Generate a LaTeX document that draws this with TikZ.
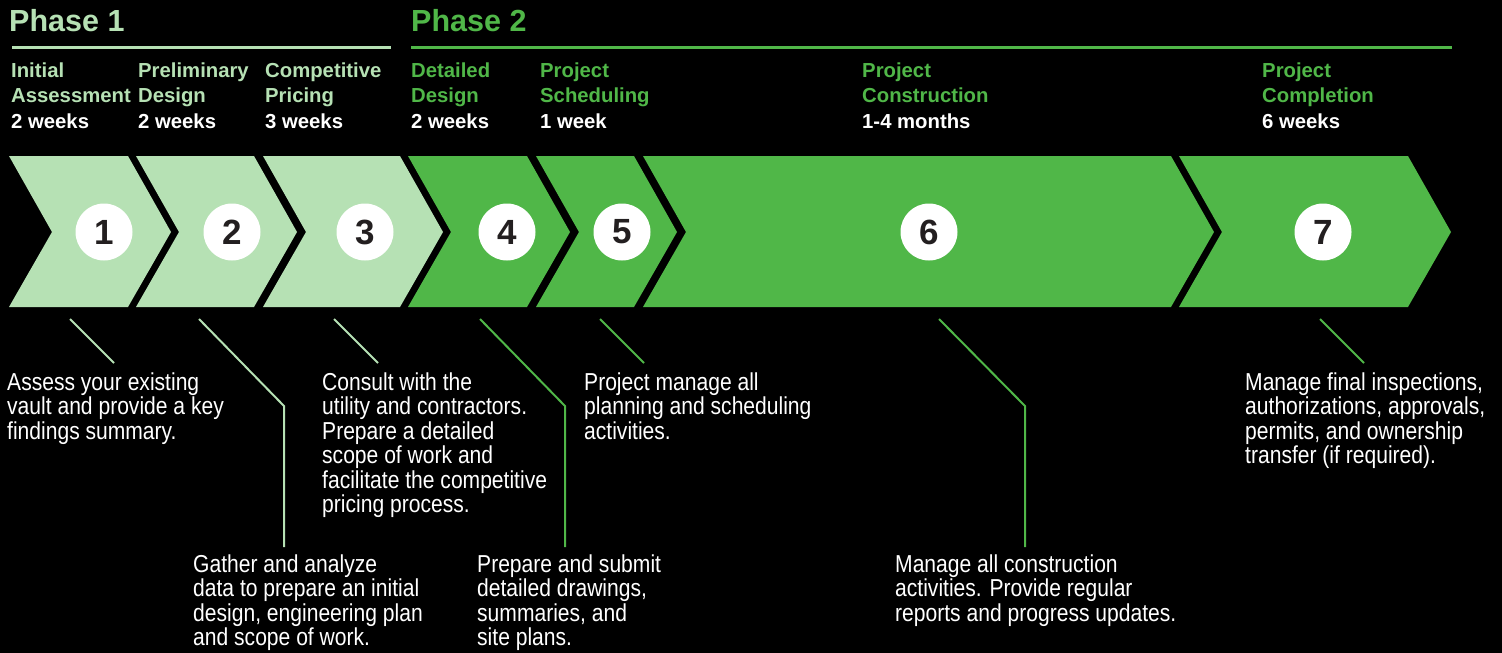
\documentclass[tikz,border=0pt]{standalone}
\usepackage{fontspec}
\setmainfont{Liberation Sans}
\newfontfamily\narrowfont[FakeStretch=0.86]{Liberation Sans}
\definecolor{lgreen}{HTML}{B6E1B4}
\definecolor{dgreen}{HTML}{50B748}
\definecolor{numblack}{HTML}{231F20}
\tikzset{
	phasetitle/.style={anchor=base west, inner sep=0, font=\bfseries\fontsize{30.5}{30.5}\selectfont},
	head/.style={anchor=base west, inner sep=0, align=left, font=\bfseries\fontsize{20.3}{25.5}\selectfont},
	blurb/.style={anchor=base west, inner sep=0, align=left, text=white, font=\narrowfont\fontsize{24.5}{24.5}\selectfont},
	num/.style={circle, fill=white, minimum size=57, inner sep=0, text=numblack, font=\bfseries\fontsize{35}{35}\selectfont},
	lead/.style={line width=2}
}
\begin{document}
\begin{tikzpicture}[x=1pt, y=-1pt]
		\fill[black] (0,0) rectangle (1502,653);
		\useasboundingbox (0,0) rectangle (1502,653);
		\node[phasetitle, text=lgreen] (ph1) at (9,31.7) {Phase 1};
		\node[phasetitle, text=dgreen] (ph2) at (411,31.7) {Phase 2};
		\draw[lgreen, line width=3] (12,47) -- (391,47);
		\draw[dgreen, line width=3] (411,47) -- (1452,47);
		\node[head, text=lgreen] (h1) at (11,128) {Initial\\Assessment\\\textcolor{white}{2 weeks}};
		\node[head, text=lgreen] (h2) at (138,128) {Preliminary\\Design\\\textcolor{white}{2 weeks}};
		\node[head, text=lgreen] (h3) at (265,128) {Competitive\\Pricing\\\textcolor{white}{3 weeks}};
		\node[head, text=dgreen] (h4) at (411,128) {Detailed\\Design\\\textcolor{white}{2 weeks}};
		\node[head, text=dgreen] (h5) at (540,128) {Project\\Scheduling\\\textcolor{white}{1 week}};
		\node[head, text=dgreen] (h6) at (862,128) {Project\\Construction\\\textcolor{white}{1-4 months}};
		\node[head, text=dgreen] (h7) at (1262,128) {Project\\Completion\\\textcolor{white}{6 weeks}};
		\fill[lgreen] (9,156) -- (128,156) -- (171,232) -- (128,307) -- (9,307) -- (52,232) -- cycle;
		\fill[lgreen] (136,156) -- (254,156) -- (297,232) -- (254,307) -- (136,307) -- (179,232) -- cycle;
		\fill[lgreen] (263,156) -- (400,156) -- (443,232) -- (400,307) -- (263,307) -- (306,232) -- cycle;
		\fill[dgreen] (408,156) -- (527,156) -- (570,232) -- (527,307) -- (408,307) -- (451,232) -- cycle;
		\fill[dgreen] (536,156) -- (634,156) -- (677,232) -- (634,307) -- (536,307) -- (579,232) -- cycle;
		\fill[dgreen] (643,156) -- (1171,156) -- (1214,232) -- (1171,307) -- (643,307) -- (686,232) -- cycle;
		\fill[dgreen] (1179,156) -- (1408,156) -- (1451,232) -- (1408,307) -- (1179,307) -- (1222,232) -- cycle;
		\node[num] (n1) at (104,232) {1};
		\node[num] (n2) at (232,232) {2};
		\node[num] (n3) at (365,232) {3};
		\node[num] (n4) at (507,232) {4};
		\node[num] (n5) at (622,232) {5};
		\node[num] (n6) at (929,232) {6};
		\node[num] (n7) at (1323,232) {7};
		\coordinate (d1) at (70,319);
		\coordinate (d2) at (199,319);
		\coordinate (d3) at (334,319);
		\coordinate (d4) at (480,319);
		\coordinate (d5) at (600,319);
		\coordinate (d6) at (939,319);
		\coordinate (d7) at (1320,319);
		\draw[lead, lgreen] (d1) -- ++(44,44);
		\draw[lead, lgreen] (d2) -- ++(85,87) -- ++(0,141);
		\draw[lead, lgreen] (d3) -- ++(44,44);
		\draw[lead, dgreen] (d4) -- ++(85,87) -- ++(0,141);
		\draw[lead, dgreen] (d5) -- ++(44,44);
		\draw[lead, dgreen] (d6) -- ++(86,87) -- ++(0,141);
		\draw[lead, dgreen] (d7) -- ++(44,44);
		\node[blurb] (t1) at (7,439) {Assess your existing\\vault and provide a key\\findings summary.};
		\node[blurb] (t2) at (193,645.5) {Gather and analyze\\data to prepare an initial\\design, engineering plan\\and scope of work.};
		\node[blurb] (t3) at (322,512.5) {Consult with the\\utility and contractors.\\Prepare a detailed\\scope of work and\\facilitate the competitive\\pricing process.};
		\node[blurb] (t4) at (477,645.5) {Prepare and submit\\detailed drawings,\\summaries, and\\site plans.};
		\node[blurb] (t5) at (584,439) {Project manage all\\planning and scheduling\\activities.};
		\node[blurb] (t6) at (895,621) {Manage all construction\\activities. Provide regular\\reports and progress updates.};
		\node[blurb] (t7) at (1245,463.5) {Manage final inspections,\\authorizations, approvals,\\permits, and ownership\\transfer (if required).};
\end{tikzpicture}
\end{document}
